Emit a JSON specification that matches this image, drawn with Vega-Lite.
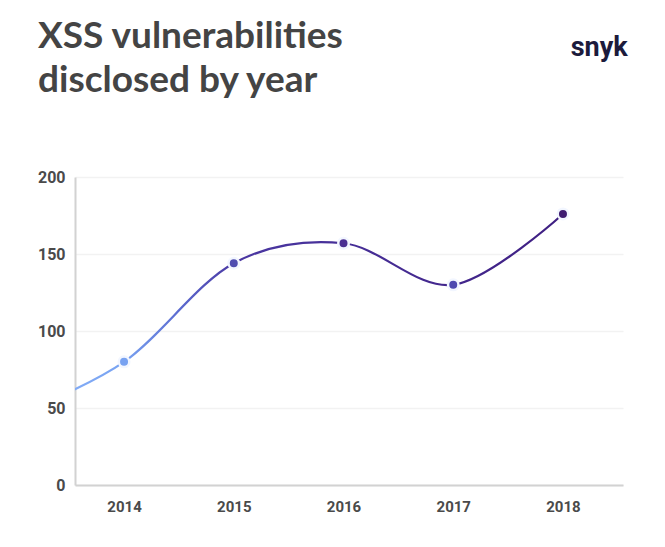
{
  "$schema": "https://vega.github.io/schema/vega-lite/v6.json",
  "autosize": "none",
  "width": 548,
  "height": 308,
  "padding": {"left": 75, "top": 177, "right": 42, "bottom": 62},
  "background": "white",
  "config": {"view": {"stroke": null}},
  "title": {
    "text": ["XSS vulnerabilities", "disclosed by year"],
    "anchor": "start",
    "frame": "group",
    "dx": -37,
    "offset": -66,
    "font": "Lato",
    "fontSize": 37,
    "fontWeight": "bold",
    "lineHeight": 44,
    "color": "#444444"
  },
  "data": {"values": [
    {"year": 2013, "value": 45},
    {"year": 2014, "value": 80},
    {"year": 2015, "value": 144},
    {"year": 2016, "value": 157},
    {"year": 2017, "value": 130},
    {"year": 2018, "value": 176}
  ]},
  "encoding": {
    "x": {
      "field": "year", "type": "quantitative",
      "scale": {"domain": [2013.553, 2018.547], "nice": false, "zero": false},
      "axis": {
        "title": null, "values": [2014, 2015, 2016, 2017, 2018], "format": "d",
        "grid": false, "ticks": false, "domainColor": "#d2d2d2", "domainWidth": 2,
        "labelFont": "Roboto", "labelFontWeight": "bold", "labelFontSize": 15,
        "labelColor": "#4a4a4a", "labelPadding": 14
      }
    },
    "y": {
      "field": "value", "type": "quantitative",
      "scale": {"domain": [0, 200], "nice": false},
      "axis": {
        "title": null, "values": [0, 50, 100, 150, 200], "ticks": false,
        "grid": true, "gridColor": "#f2f2f2", "gridWidth": 1.5,
        "domainColor": "#d2d2d2", "domainWidth": 2,
        "labelFont": "Roboto", "labelFontWeight": "bold", "labelFontSize": 16,
        "labelColor": "#4a4a4a", "labelPadding": 10
      }
    }
  },
  "layer": [
    {
      "mark": {
        "type": "line", "interpolate": "cardinal", "clip": true, "strokeWidth": 2.2,
        "color": {
          "gradient": "linear", "x1": 0, "y1": 0, "x2": 1, "y2": 0,
          "stops": [
            {"offset": 0, "color": "#8db6fb"},
            {"offset": 0.2, "color": "#78a2f1"},
            {"offset": 0.3, "color": "#5b6bd0"},
            {"offset": 0.4, "color": "#4a37a2"},
            {"offset": 1, "color": "#3f1f82"}
          ]
        }
      }
    },
    {
      "transform": [{"filter": "datum.year >= 2014"}],
      "mark": {"type": "point", "filled": true, "size": 110, "strokeWidth": 2.5, "strokeOpacity": 1, "opacity": 1},
      "encoding": {
        "color": {
          "field": "year", "type": "nominal", "legend": null,
          "scale": {"domain": [2014, 2015, 2016, 2017, 2018], "range": ["#78a2f1", "#4f4cb0", "#4a2f92", "#4f4ab0", "#3e1b70"]}
        },
        "stroke": {"value": "#f2f6ff"}
      }
    },
    {
      "data": {"values": [{"label": "snyk", "xpos": 2018.33, "ypos": 284}]},
      "mark": {"type": "text", "clip": false, "font": "Roboto", "fontWeight": "bold", "fontSize": 27, "fill": "#1c1b3c", "align": "center", "baseline": "middle"},
      "encoding": {
        "x": {"field": "xpos", "type": "quantitative"},
        "y": {"field": "ypos", "type": "quantitative"},
        "text": {"field": "label", "type": "nominal"}
      }
    }
  ]
}
